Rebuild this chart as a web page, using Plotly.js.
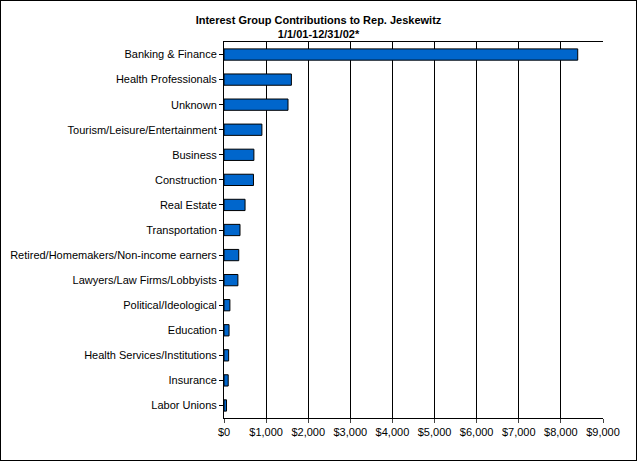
<!DOCTYPE html>
<html><head><script src="https://cdn.plot.ly/plotly-3.0.1.min.js"></script>
<style>body{margin:0}#plot{width:635px;height:459px;border:1px solid #000}</style>
</head><body><div id="plot"></div>
<script>
var categories = ["Banking & Finance","Health Professionals","Unknown","Tourism/Leisure/Entertainment","Business","Construction","Real Estate","Transportation","Retired/Homemakers/Non-income earners","Lawyers/Law Firms/Lobbyists","Political/Ideological","Education","Health Services/Institutions","Insurance","Labor Unions"];
var amounts = [8400,1600,1520,900,710,700,500,380,350,330,140,120,110,100,60];

var trace = {
  type: "bar", orientation: "h",
  x: amounts, y: categories,
  marker: {color: "#0066CC", line: {color: "#000", width: 1}},
  width: 0.45
};
var layout = {
  width: 635, height: 459,
  margin: {l: 223, r: 33, t: 41, b: 42},
  paper_bgcolor: "#fff", plot_bgcolor: "#fff",
  font: {family: "Liberation Sans, Arial", size: 11, color: "#000"},
  title: {text: "<b>Interest Group Contributions to Rep. Jeskewitz<br>1/1/01-12/31/02*</b>", font: {size: 11}, x: 0.5, xanchor: "center", y: 0.95, yanchor: "middle"},
  xaxis: {range: [0, 9000], dtick: 1000, tickprefix: "$", tickformat: ",d", showgrid: true, gridcolor: "#000", gridwidth: 1,
          showline: true, linecolor: "#000", mirror: true, ticks: "outside", ticklen: 4, zeroline: false},
  yaxis: {autorange: "reversed", showline: true, linecolor: "#000", ticks: "outside", ticklen: 4, tickcolor: "#000", showgrid: false},
  showlegend: false
};
Plotly.newPlot("plot", [trace], layout, {displayModeBar: false});
</script></body></html>
